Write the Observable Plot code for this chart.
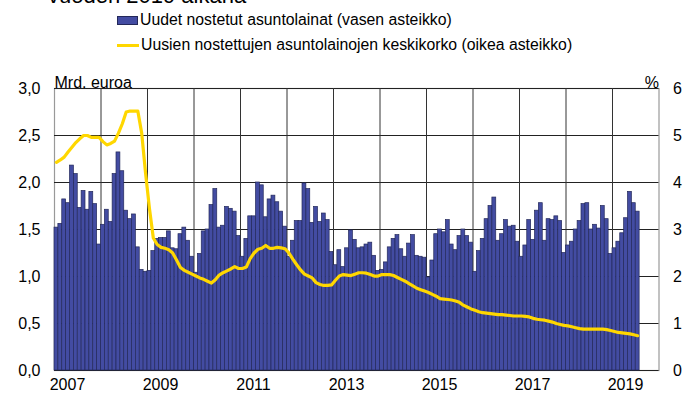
<!DOCTYPE html>
<html>
<head>
<meta charset="utf-8">
<script src="https://cdn.jsdelivr.net/npm/d3@7"></script>
<script src="https://cdn.jsdelivr.net/npm/@observablehq/plot@0.6"></script>
<style>
  body { margin: 0; width: 700px; height: 394px; overflow: hidden; background: #fff; position: relative;
         font-family: "Liberation Sans", Arial, sans-serif; color: #000; }
  #title { position: absolute; left: 48px; top: -17px; font-size: 22px; line-height: 26px; white-space: nowrap; }
  .leg { position: absolute; left: 117px; font-size: 15.8px; height: 20px; display: flex; align-items: center; white-space: nowrap; }
  .sw-bar { width: 21px; height: 9px; background: #434ca2; border: 1px solid #23285a; box-sizing: border-box; margin-right: 2px; }
  .sw-line { width: 22px; height: 3px; background: #ffd700; margin-right: 2px; }
  #chart { position: absolute; left: 0; top: 60px; }
</style>
</head>
<body>
<div id="title">vuoden 2019 aikana</div>
<div class="leg" style="top:10px"><span class="sw-bar"></span>Uudet nostetut asuntolainat (vasen asteikko)</div>
<div class="leg" style="top:35px"><span class="sw-line"></span>Uusien nostettujen asuntolainojen keskikorko (oikea asteikko)</div>
<div id="chart"></div>
<script>
// Monthly data, January 2007 – July 2019
const startYear = 2007;

// New housing loans drawn, bn euro (left scale)
const loans = [
  1.52, 1.56, 1.82, 1.78, 2.18, 2.09, 1.73, 1.91, 1.71, 1.90, 1.77, 1.34, // 2007
  1.55, 1.71, 1.58, 2.09, 2.32, 2.12, 1.70, 1.61, 1.66, 1.31, 1.07, 1.05, // 2008
  1.06, 1.27, 1.40, 1.41, 1.41, 1.48, 1.30, 1.29, 1.45, 1.52, 1.38, 1.21, // 2009
  1.04, 1.24, 1.48, 1.50, 1.76, 1.93, 1.52, 1.54, 1.74, 1.72, 1.69, 1.43, // 2010
  1.21, 1.40, 1.64, 1.64, 2.00, 1.97, 1.63, 1.82, 1.86, 1.79, 1.69, 1.53, // 2011
  1.21, 1.38, 1.59, 1.59, 1.99, 1.93, 1.57, 1.74, 1.58, 1.67, 1.60, 1.26, // 2012
  1.12, 1.28, 1.10, 1.30, 1.49, 1.39, 1.30, 1.31, 1.34, 1.36, 1.22, 1.06, // 2013
  1.07, 1.15, 1.31, 1.40, 1.44, 1.29, 1.21, 1.35, 1.44, 1.22, 1.21, 1.20, // 2014
  0.99, 1.17, 1.45, 1.50, 1.47, 1.60, 1.34, 1.28, 1.43, 1.50, 1.43, 1.36, // 2015
  1.05, 1.27, 1.40, 1.61, 1.75, 1.84, 1.38, 1.45, 1.60, 1.53, 1.54, 1.37, // 2016
  1.21, 1.33, 1.60, 1.39, 1.70, 1.78, 1.38, 1.61, 1.60, 1.64, 1.59, 1.25, // 2017
  1.33, 1.37, 1.50, 1.59, 1.77, 1.78, 1.50, 1.55, 1.51, 1.75, 1.61, 1.24, // 2018
  1.30, 1.37, 1.46, 1.62, 1.90, 1.78, 1.69                                // 2019
];

// Average interest rate on new housing loans, % (right scale)
const rates = [
  4.43, 4.48, 4.54, 4.65, 4.75, 4.85, 4.93, 5.00, 5.00, 4.96, 4.96, 4.96, // 2007
  4.87, 4.80, 4.83, 4.88, 5.05, 5.25, 5.50, 5.52, 5.52, 5.52, 5.05, 4.20, // 2008
  3.45, 2.82, 2.68, 2.62, 2.60, 2.57, 2.50, 2.35, 2.19, 2.13, 2.09, 2.05, // 2009
  2.01, 1.97, 1.94, 1.90, 1.86, 1.93, 2.03, 2.08, 2.12, 2.16, 2.21, 2.17, // 2010
  2.17, 2.20, 2.38, 2.50, 2.58, 2.60, 2.66, 2.60, 2.60, 2.62, 2.61, 2.59, // 2011
  2.50, 2.37, 2.25, 2.14, 2.05, 2.01, 1.97, 1.87, 1.83, 1.81, 1.81, 1.82, // 2012
  1.92, 2.01, 2.04, 2.03, 2.02, 2.05, 2.08, 2.08, 2.07, 2.04, 2.01, 2.01, // 2013
  2.04, 2.04, 2.04, 2.02, 1.98, 1.94, 1.90, 1.85, 1.80, 1.75, 1.72, 1.69, // 2014
  1.66, 1.62, 1.58, 1.53, 1.52, 1.51, 1.50, 1.48, 1.45, 1.39, 1.35, 1.31, // 2015
  1.28, 1.25, 1.23, 1.22, 1.21, 1.20, 1.19, 1.19, 1.18, 1.17, 1.16, 1.16, // 2016
  1.16, 1.15, 1.14, 1.11, 1.09, 1.08, 1.07, 1.05, 1.03, 1.00, 0.98, 0.96, // 2017
  0.95, 0.93, 0.91, 0.89, 0.88, 0.88, 0.88, 0.88, 0.88, 0.88, 0.87, 0.85, // 2018
  0.83, 0.81, 0.80, 0.79, 0.78, 0.76, 0.74                                // 2019
];

const yearLabels = [2007, 2009, 2011, 2013, 2015, 2017, 2019];
const yearGrid = [2008, 2009, 2010, 2011, 2012, 2013, 2014, 2015, 2016, 2017, 2018, 2019];
const leftTicks = [0, 0.5, 1, 1.5, 2, 2.5, 3];      // bn euro
const rightTicks = [0, 1, 2, 3, 4, 5, 6];           // %
const xDomain = [2007, 2020];

const data = loans.map((v, i) => ({ t: startYear + i / 12, loan: v, rate: rates[i] }));

const font = "Liberation Sans, Arial, sans-serif";
const chart = Plot.plot({
  width: 700,
  height: 334,
  marginTop: 28,
  marginBottom: 24,
  marginLeft: 54,
  marginRight: 41.5,
  style: { fontFamily: font, fontSize: "16px", background: "white", color: "#000", overflow: "visible" },
  x: { domain: xDomain, axis: null },
  y: { domain: [0, 3], axis: null },
  marks: [
    Plot.frame({ stroke: "#999", strokeWidth: 1.2 }),
    Plot.gridY(leftTicks, { stroke: "#222", strokeOpacity: 1, strokeWidth: 1 }),
    Plot.gridX(yearGrid, { stroke: "#333", strokeOpacity: 1, strokeWidth: 1 }),
    Plot.rectY(data, { x1: "t", x2: d => d.t + 1 / 12, y: "loan", fill: "#434ca2", stroke: "#23285a", strokeWidth: 0.7 }),
    Plot.lineY(data, { x: d => d.t + 1 / 24, y: d => d.rate / 2, stroke: "#ffd700", strokeWidth: 3.2, strokeLinejoin: "round" }),
    Plot.axisY(leftTicks, { anchor: "left", tickSize: 0, tickPadding: 14, fontSize: 16, label: null,
      tickFormat: d => d.toFixed(1).replace(".", ",") }),
    Plot.axisY(rightTicks.map(d => d / 2), { anchor: "right", tickSize: 0, tickPadding: 14, fontSize: 16, label: null,
      tickFormat: d => String(Math.round(d * 2)) }),
    Plot.axisX(yearLabels, { anchor: "bottom", tickSize: 0, tickPadding: 8, fontSize: 16, label: null, dx: 13,
      tickFormat: d => String(d) }),
    Plot.text(["Mrd. euroa"], { frameAnchor: "top-left", dy: -12, textAnchor: "start", fontSize: 16 }),
    Plot.text(["%"], { frameAnchor: "top-right", dy: -12, textAnchor: "end", fontSize: 16 })
  ]
});
document.getElementById("chart").appendChild(chart);
</script>
</body>
</html>
